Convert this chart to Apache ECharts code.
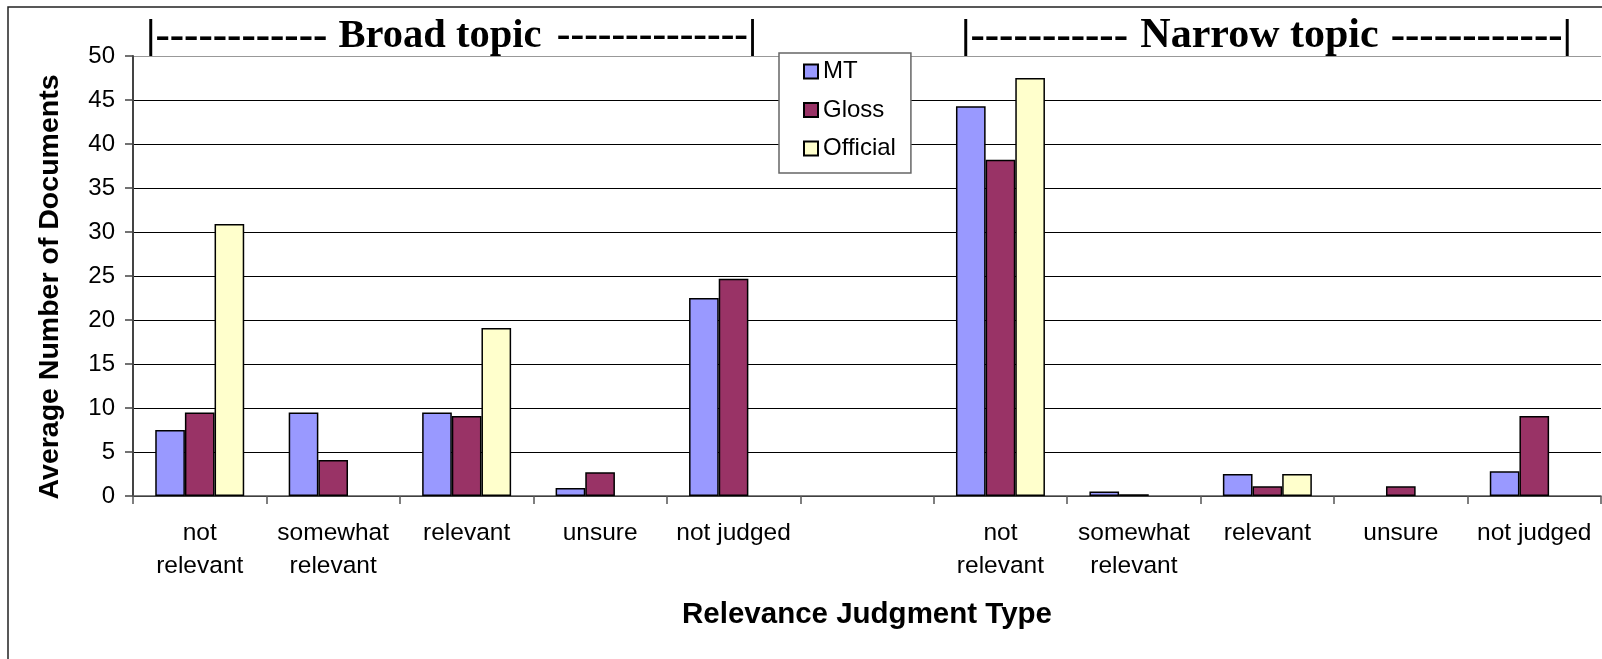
<!DOCTYPE html>
<html>
<head>
<meta charset="utf-8">
<script src="https://cdn.jsdelivr.net/npm/echarts@6/dist/echarts.min.js"></script>
<style>
  html, body { margin: 0; padding: 0; background: #fff; }
  #chart { width: 1602px; height: 659px; }
</style>
</head>
<body>
<div id="chart"></div>
<script>
// Relevance judgment categories: broad topic, an empty spacer, then narrow topic
const categories = [
  'not\nrelevant', 'somewhat\nrelevant', 'relevant', 'unsure', 'not judged',
  '',
  'not\nrelevant', 'somewhat\nrelevant', 'relevant', 'unsure', 'not judged'
];

// Average number of documents per judgment type
const mtValues       = [7.5, 9.5, 9.5, 0.9, 22.5, null, 44.3, 0.5, 2.5, null, 2.8];
const glossValues    = [9.5, 4.1, 9.1, 2.7, 24.7, null, 38.2, 0.2, 1.1, 1.1, 9.1];
const officialValues = [30.9, null, 19.1, null, null, null, 47.5, null, 2.5, null, null];

const seriesNames = ['MT', 'Gloss', 'Official'];
const seriesColors = ['#9999FF', '#993366', '#FFFFCC'];

// Group headers above the plot: opening bracket, topic name, closing bracket
const broadHeader  = ['|------------', 'Broad topic', '--------------|'];
const narrowHeader = ['|-----------', 'Narrow topic', '------------|'];

const yTicks = [0, 5, 10, 15, 20, 25, 30, 35, 40, 45, 50];

const sans = '"Liberation Sans", Arial, sans-serif';
const serif = '"Liberation Serif", "Times New Roman", serif';

const chart = echarts.init(document.getElementById('chart'), null, { renderer: 'canvas' });

// one color per split line, the top one (plot border) lighter
const splitColors = yTicks.map((v, i) => i === yTicks.length - 1 ? '#999999' : '#000000');

function barSeries(name, data, color) {
  return {
    name: name,
    type: 'bar',
    data: data,
    barGap: '0%',
    barCategoryGap: '33.33%',
    itemStyle: { color: color, borderColor: '#000', borderWidth: 1.5 },
    emphasis: { disabled: true },
    animation: false
  };
}

function headerText(text, x, align, size) {
  return {
    type: 'text',
    silent: true,
    x: x, y: 36.5,
    style: {
      text: text, fontFamily: serif, fontSize: size, fontWeight: 'bold',
      fill: '#000', align: align, verticalAlign: 'middle'
    }
  };
}

chart.setOption({
  animation: false,
  backgroundColor: '#fff',
  grid: { left: 133, right: 1, top: 56, bottom: 163, containLabel: false },
  legend: {
    data: seriesNames,
    orient: 'vertical',
    left: 779,
    top: 53,
    icon: 'rect',
    itemWidth: 14,
    itemHeight: 14,
    itemGap: 13.5,
    padding: [6, 15, 12, 24],
    backgroundColor: '#fff',
    borderColor: '#666',
    borderWidth: 1.5,
    textStyle: { fontFamily: sans, fontSize: 24, color: '#000', lineHeight: 25 },
    selectedMode: false
  },
  xAxis: {
    type: 'category',
    data: categories,
    name: 'Relevance Judgment Type',
    nameLocation: 'middle',
    nameGap: 104,
    nameTextStyle: { fontFamily: sans, fontSize: 29.5, fontWeight: 'bold', color: '#000' },
    axisLine: { lineStyle: { color: '#555', width: 1.5 } },
    axisTick: { show: true, length: 8, lineStyle: { color: '#555', width: 1.5 } },
    axisLabel: {
      interval: 0, margin: 21, fontFamily: sans, fontSize: 24.5, color: '#000', lineHeight: 33
    },
    splitLine: { show: false }
  },
  yAxis: {
    type: 'value',
    min: 0,
    max: 50,
    interval: 5,
    axisLine: { show: true, lineStyle: { color: '#444', width: 2 } },
    axisTick: { show: true, length: 8, lineStyle: { color: '#444', width: 1.5 } },
    axisLabel: { margin: 18, fontFamily: sans, fontSize: 24, color: '#000' },
    splitLine: { show: true, lineStyle: { color: splitColors, width: 1.2 } }
  },
  graphic: [
    {
      type: 'rect',
      z: -1,
      silent: true,
      shape: { x: 8, y: 7, width: 1700, height: 800 },
      style: { fill: null, stroke: '#222', lineWidth: 1.5 }
    },
    {
      // value axis title
      type: 'text',
      silent: true,
      x: 50, y: 287,
      rotation: Math.PI / 2,
      style: {
        text: 'Average Number of Documents', fontFamily: sans, fontSize: 28.5,
        fontWeight: 'bold', fill: '#000', align: 'center', verticalAlign: 'middle'
      }
    },
    headerText(broadHeader[0], 146, 'left', 43),
    headerText(broadHeader[1], 440, 'center', 40.5),
    headerText(broadHeader[2], 757, 'right', 41),
    headerText(narrowHeader[0], 961, 'left', 43),
    headerText(narrowHeader[1], 1259.5, 'center', 42),
    headerText(narrowHeader[2], 1572, 'right', 43)
  ],
  series: [
    barSeries(seriesNames[0], mtValues, seriesColors[0]),
    barSeries(seriesNames[1], glossValues, seriesColors[1]),
    barSeries(seriesNames[2], officialValues, seriesColors[2])
  ]
});
</script>
</body>
</html>
